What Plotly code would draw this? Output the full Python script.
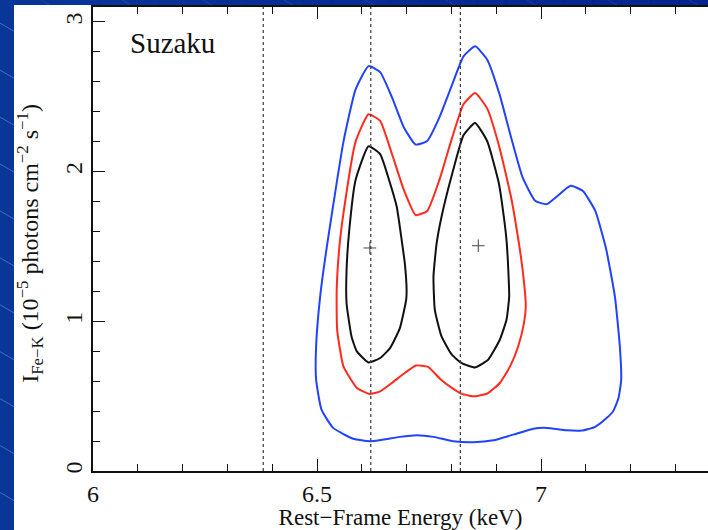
import plotly.graph_objects as go

# 68%, 90% and 99% confidence contours for the Fe-K line (energy in keV, intensity in 1e-5 ph/cm2/s)
blue_energy = [6.581, 6.536, 6.510, 6.498, 6.498, 6.507, 6.522, 6.559, 6.586, 6.615, 6.641,
               6.667, 6.694, 6.720, 6.746, 6.773, 6.801, 6.827, 6.853, 6.880, 6.907, 6.933,
               6.959, 6.987, 7.013, 7.066, 7.093, 7.121, 7.145, 7.165, 7.176, 7.179, 7.173,
               7.161, 7.147, 7.121, 7.091, 7.057, 7.013, 6.983, 6.938, 6.894, 6.849, 6.804,
               6.760, 6.723, 6.685, 6.648, 6.618, 6.581]
blue_flux = [0.215, 0.288, 0.410, 0.610, 0.832, 1.165, 1.499, 2.199, 2.548, 2.705, 2.665,
             2.499, 2.295, 2.181, 2.205, 2.361, 2.577, 2.770, 2.837, 2.748, 2.521, 2.232,
             1.961, 1.805, 1.783, 1.905, 1.872, 1.739, 1.488, 1.165, 0.832, 0.610, 0.488,
             0.399, 0.355, 0.295, 0.270, 0.272, 0.288, 0.283, 0.243, 0.205, 0.192, 0.199,
             0.228, 0.239, 0.228, 0.210, 0.199, 0.215]

red_energy = [6.617, 6.589, 6.559, 6.545, 6.544, 6.550, 6.559, 6.586, 6.615, 6.641, 6.667,
              6.694, 6.720, 6.746, 6.773, 6.801, 6.827, 6.853, 6.880, 6.907, 6.933, 6.946,
              6.959, 6.966, 6.962, 6.949, 6.931, 6.908, 6.882, 6.853, 6.823, 6.801, 6.775,
              6.748, 6.721, 6.696, 6.667, 6.641, 6.617]
red_flux = [0.515, 0.555, 0.699, 0.943, 1.210, 1.499, 1.721, 2.199, 2.383, 2.339, 2.121,
            1.877, 1.710, 1.737, 1.943, 2.221, 2.450, 2.525, 2.421, 2.165, 1.832, 1.610,
            1.343, 1.099, 0.988, 0.832, 0.699, 0.588, 0.521, 0.499, 0.515, 0.555, 0.615,
            0.695, 0.705, 0.655, 0.588, 0.532, 0.515]

black_left_energy = [6.615, 6.589, 6.577, 6.566, 6.566, 6.572, 6.586, 6.615, 6.641, 6.661,
                     6.678, 6.689, 6.696, 6.700, 6.699, 6.685, 6.663, 6.641, 6.615]
black_left_flux = [0.725, 0.799, 0.899, 1.121, 1.343, 1.610, 1.943, 2.170, 2.117, 1.943,
                   1.765, 1.543, 1.388, 1.210, 1.143, 0.955, 0.821, 0.755, 0.725]

black_right_energy = [6.853, 6.823, 6.801, 6.778, 6.763, 6.760, 6.767, 6.778, 6.801, 6.827,
                      6.853, 6.880, 6.906, 6.917, 6.923, 6.927, 6.929, 6.923, 6.908, 6.882,
                      6.853]
black_right_flux = [0.692, 0.721, 0.777, 0.899, 1.077, 1.299, 1.521, 1.699, 1.977, 2.243,
                    2.325, 2.203, 1.921, 1.699, 1.543, 1.343, 1.165, 1.010, 0.877, 0.743,
                    0.692]

# best-fit positions of the two lines
best_energy = [6.618, 6.860]
best_flux = [1.49, 1.505]

# reference line energies (dotted verticals)
line_energies = [6.38, 6.62, 6.82]

x_ticks = [6, 6.5, 7]
x_tick_text = ["6", "6.5", "7"]
y_ticks = [0, 1, 2, 3]
y_tick_text = ["0", "1", "2", "3"]

SERIF = "Liberation Serif"
INK = "#111111"
BLUE = "#2143ff"
RED = "#ff2b1c"

fig = go.Figure()

for xs, ys, col in [(blue_energy, blue_flux, BLUE),
                    (red_energy, red_flux, RED),
                    (black_left_energy, black_left_flux, INK),
                    (black_right_energy, black_right_flux, INK)]:
    fig.add_trace(go.Scatter(x=xs, y=ys, mode="lines",
                             line=dict(color=col, width=2, shape="spline", smoothing=0.45),
                             hoverinfo="skip"))

fig.add_trace(go.Scatter(x=best_energy, y=best_flux, mode="markers",
                         marker=dict(symbol="cross-thin", size=9,
                                     line=dict(color="#444444", width=1))))

# invisible trace on the top axis so its ticks get drawn
fig.add_trace(go.Scatter(x=[6], y=[0], xaxis="x2", mode="markers",
                         marker=dict(opacity=0), hoverinfo="skip"))

shapes = []

# slide background: diagonal hatch lines on the blue frame
W, H = 708, 530
L, T, B = 93, 7, 471.5
pw, ph = W - L, B - T
X_MAX = 6 + pw / 448.0


def px2paper(px, py):
    return (px - L) / pw, (B - py) / ph


for k in range(-12, 14):
    x0 = k * 81 - 40
    y0 = 0
    x1 = x0 + 900
    y1 = y0 + 900 * 0.58
    a = px2paper(x0, y0)
    b = px2paper(x1, y1)
    shapes.append(dict(type="line", xref="paper", yref="paper", layer="below",
                       x0=a[0], y0=a[1], x1=b[0], y1=b[1],
                       line=dict(color="rgba(140,170,230,0.45)", width=1)))

# darker navy band along the top edge
for i in range(24):
    t = i / 23
    r = int(8 * (1 - t))
    g = int(52 * (1 - t) + 24 * t)
    bcol = int(158 * (1 - t) + 140 * t)
    a = px2paper(14 + i * (W - 14) / 24, 0)
    b = px2paper(14 + (i + 1) * (W - 14) / 24 + 1, 5)
    shapes.append(dict(type="rect", xref="paper", yref="paper", layer="below",
                       x0=a[0], y0=a[1], x1=b[0], y1=b[1], line=dict(width=0),
                       fillcolor=f"rgb({r},{g},{bcol})", opacity=0.6))

# white panel
a = px2paper(14, 5)
b = px2paper(W + 5, H + 5)
shapes.append(dict(type="rect", xref="paper", yref="paper", layer="below",
                   x0=a[0], y0=a[1], x1=b[0], y1=b[1],
                   line=dict(width=0), fillcolor="white"))

for e in line_energies:
    shapes.append(dict(type="line", xref="x", yref="paper", x0=e, x1=e, y0=0, y1=1,
                       line=dict(color="#444444", width=1.3, dash="dot")))

ytitle_pos = px2paper(30, 244)

fig.update_layout(
    width=W, height=H,
    margin=dict(l=L, r=0, t=T, b=H - B),
    paper_bgcolor="#0a3797",
    plot_bgcolor="rgba(0,0,0,0)",
    showlegend=False,
    shapes=shapes,
    font=dict(family=SERIF, color=INK, size=23),
    annotations=[
        dict(text="Suzaku", xref="paper", yref="paper",
             x=px2paper(128, 0)[0], y=px2paper(0, 43)[1],
             xanchor="left", yanchor="middle", showarrow=False,
             font=dict(family=SERIF, size=29, color=INK)),
        dict(text="I<sub>Fe\u2212K</sub> (10<sup>\u22125</sup> photons cm<sup>\u22122</sup> s<sup>\u22121</sup>)",
             xref="paper", yref="paper", x=ytitle_pos[0], y=ytitle_pos[1],
             xanchor="center", yanchor="middle", textangle=-90, showarrow=False,
             font=dict(family=SERIF, size=24, color=INK)),
    ],
    xaxis2=dict(overlaying="x", side="top", anchor="y", range=[6, X_MAX],
                showgrid=False, zeroline=False, showline=False, showticklabels=False,
                ticks="inside", ticklen=12, tickwidth=1, tickcolor=INK,
                tickvals=x_ticks,
                minor=dict(dtick=0.1, ticks="inside", ticklen=7, tickwidth=1,
                           tickcolor=INK)),
)

fig.layout.xaxis.update(
    range=[6, X_MAX], showgrid=False, zeroline=False,
    showline=True, linecolor=INK, linewidth=1.5, mirror=True,
    ticks="inside", ticklen=12, tickwidth=1, tickcolor=INK,
    tickvals=x_ticks, ticktext=x_tick_text,
    tickfont=dict(family=SERIF, size=24),
    minor=dict(dtick=0.1, ticks="inside", ticklen=7, tickwidth=1, tickcolor=INK),
    title=dict(text="Rest\u2212Frame Energy (keV)", font=dict(family=SERIF, size=23),
               standoff=6),
)
fig.layout.yaxis.update(
    range=[0, 3.1], showgrid=False, zeroline=False,
    showline=True, linecolor=INK, linewidth=1.5,
    ticks="inside", ticklen=12, tickwidth=1, tickcolor=INK,
    tickvals=y_ticks, ticktext=y_tick_text, tickangle=-90,
    tickfont=dict(family=SERIF, size=24),
    minor=dict(dtick=0.2, ticks="inside", ticklen=7, tickwidth=1, tickcolor=INK),
)

fig.write_html("out.html")
